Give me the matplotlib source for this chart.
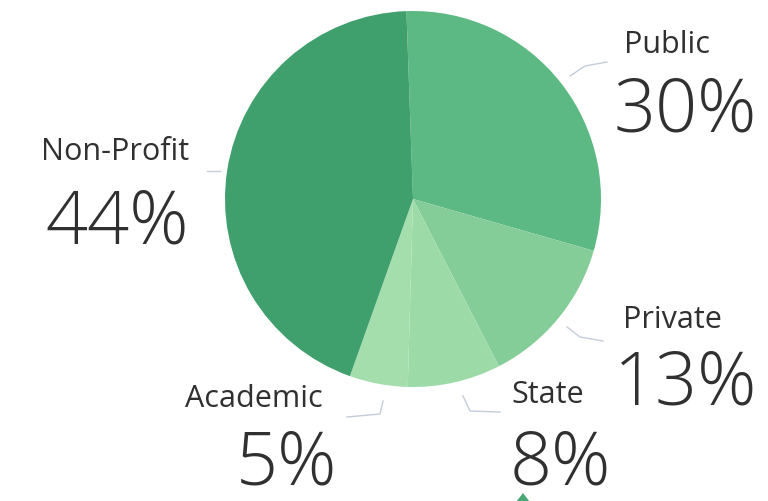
import matplotlib.pyplot as plt
from matplotlib.patches import Polygon

# data (clockwise from the top)
labels = ["Public", "Private", "State", "Academic", "Non-Profit"]
shares = [30, 13, 8, 5, 44]
colors = ["#5cb983", "#85cd98", "#9cdba8", "#a3deac", "#3f9f6d"]

W, H = 768, 502
fig = plt.figure(figsize=(W / 100, H / 100), dpi=100)
ax = fig.add_axes([0, 0, 1, 1])

ax.pie(shares, colors=colors, startangle=92, counterclock=False,
       center=(413, H - 200), radius=188, frame=True,
       wedgeprops=dict(linewidth=0))
ax.set_xlim(0, W)
ax.set_ylim(0, H)
ax.set_aspect("equal")
ax.axis("off")

txt = "#303030"
font = "Open Sans"
# (label, name x, name baseline, pct x, pct baseline) in pixel coords from top
spots = {
    "Non-Profit": (115, 160, 117, 243),
    "Public": (667, 53, 685, 132),
    "Private": (672, 328, 686, 405),
    "State": (548, 403, 560, 485),
    "Academic": (254, 407, 287, 485),
}
for lab, val in zip(labels, shares):
    nx, ny, px, py = spots[lab]
    ax.text(nx, H - ny, lab, fontsize=22, family=font, color=txt,
            ha="center", va="baseline")
    ax.text(px, H - py, f"{val}%", fontsize=53, family=font, color=txt,
            ha="center", va="baseline", fontweight="light")

# faint leader lines
leaders = [
    [(570, 77), (585, 67), (607, 63)],
    [(567, 328), (580, 338), (603, 342)],
    [(347, 418), (380, 415), (383, 402)],
    [(463, 397), (470, 412), (500, 413)],
    [(207, 172), (220, 172)],
]
for pts in leaders:
    xs = [p[0] for p in pts]
    ys = [H - p[1] for p in pts]
    ax.plot(xs, ys, color="#b5c0cf", lw=1, alpha=0.8)

# small marker cut off at the bottom edge
ax.add_patch(Polygon([(516, H - 503), (530, H - 503), (523, H - 494)],
                     closed=True, color="#4aa877", lw=0))

fig.savefig("out.png", dpi=100, facecolor="white")
